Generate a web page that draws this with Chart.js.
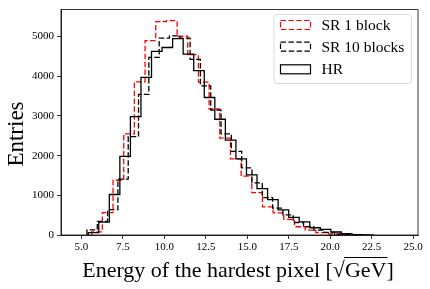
<!DOCTYPE html>
<html>
<head>
<meta charset="utf-8">
<script src="https://cdn.jsdelivr.net/npm/chart.js@4.4.0/dist/chart.umd.min.js"></script>
<style>
    html, body { margin: 0; padding: 0; background: #fff; }
    #wrap { width: 430px; height: 289px; }
</style>
</head>
<body>
<div id="wrap"><canvas id="grafico" width="430" height="289"></canvas></div>
<script>
//Contagens de cada histograma (um valor por bin)
const sr1Counts = [80, 565, 1380, 2550, 3858, 4900, 5375, 5400, 5008, 4545, 3850, 3175, 2440, 1920, 1483, 1067, 708, 558, 392, 208, 125, 58, 25, 5];
const sr10Counts = [130, 345, 640, 1410, 2480, 3545, 4475, 4960, 5017, 4960, 4425, 3760, 3145, 2550, 2107, 1690, 1315, 940, 675, 508, 315, 208, 125, 65, 25, 10];
const hrCounts = [60, 325, 1020, 1980, 2985, 3970, 4625, 4725, 4950, 4558, 4142, 3465, 2917, 2392, 1917, 1517, 1167, 892, 635, 442, 333, 183, 142, 75, 33, 8, 5];

//Inicio e largura dos bins
const sr1BinStart = 5.62, sr1BinWidth = 0.6434;
const sr10BinStart = 5.335, sr10BinWidth = 0.6217;
const hrBinStart = 5.41, hrBinWidth = 0.636;

const seriesLabels = ['SR 1 block', 'SR 10 blocks', 'HR'];
const xTicks = [5.0, 7.5, 10.0, 12.5, 15.0, 17.5, 20.0, 22.5, 25.0];
const yTicks = [0, 1000, 2000, 3000, 4000, 5000];
const xLimits = [3.77, 25.29];
const yLimits = [0, 5680];

const xTitle = 'Energy of the hardest pixel [';
const xTitleUnit = 'GeV';
const yTitle = 'Entries';

const serif = '"Liberation Serif", "Times New Roman", serif';

/**
 * Monta os pontos de um histograma em degraus (contorno, como histtype step)
 */
const StepPoints = (start, width, counts) => {
    var pts = [{ x: start, y: 0 }];
    for (var i = 0; i < counts.length; i++) {
        pts.push({ x: start + i * width, y: counts[i] });
    }
    pts.push({ x: start + counts.length * width, y: 0 });
    return pts;
}

const Serie = (label, pts, color, dash, order) => {
    return {
        label: label,
        data: pts,
        borderColor: color,
        borderWidth: 1.3,
        borderDash: dash,
        stepped: true,
        fill: false,
        pointRadius: 0,
        order: order
    };
}

const datasets = [
    Serie(seriesLabels[0], StepPoints(sr1BinStart, sr1BinWidth, sr1Counts), '#ff0000', [5.5, 2.4], 3),
    Serie(seriesLabels[1], StepPoints(sr10BinStart, sr10BinWidth, sr10Counts), '#000000', [5.5, 2.4], 2),
    Serie(seriesLabels[2], StepPoints(hrBinStart, hrBinWidth, hrCounts), '#000000', [], 1)
];

//Moldura, legenda e titulos dos eixos
const extras = {
    id: 'extras',
    afterDatasetsDraw: (chart) => {
        var ctx = chart.ctx;
        var a = chart.chartArea;
        ctx.save();
        ctx.strokeStyle = '#000';
        ctx.lineWidth = 0.8;
        ctx.setLineDash([]);
        ctx.strokeRect(a.left, a.top, a.right - a.left, a.bottom - a.top);

        // legenda
        var lx = 274, ly = 14.5, lw = 137.5, lh = 69;
        ctx.beginPath();
        ctx.roundRect(lx, ly, lw, lh, 3);
        ctx.fillStyle = 'rgba(255,255,255,0.8)';
        ctx.fill();
        ctx.strokeStyle = '#d0d0d0';
        ctx.lineWidth = 0.8;
        ctx.stroke();

        var rows = [25, 46.7, 69.3];
        ctx.font = '15.5px ' + serif;
        ctx.textBaseline = 'middle';
        ctx.textAlign = 'left';
        for (var i = 0; i < datasets.length; i++) {
            var ds = datasets[i];
            ctx.strokeStyle = ds.borderColor;
            ctx.lineWidth = 1.2;
            ctx.setLineDash(ds.borderDash);
            ctx.strokeRect(280.5, rows[i] - 4.5, 30, 9);
            ctx.setLineDash([]);
            ctx.fillStyle = '#000';
            ctx.fillText(ds.label, 321.5, rows[i] + 1);
        }

        // titulo do eixo x com raiz quadrada
        ctx.font = '22px ' + serif;
        ctx.textBaseline = 'alphabetic';
        var w1 = ctx.measureText(xTitle).width;
        var wr = ctx.measureText('\u221A').width;
        var wu = ctx.measureText(xTitleUnit).width;
        var wb = ctx.measureText(']').width;
        var total = w1 + wr + wu + wb;
        var x0 = 238 - total / 2;
        var base = 277;
        ctx.fillText(xTitle, x0, base);
        ctx.fillText('\u221A', x0 + w1, base);
        ctx.fillText(xTitleUnit, x0 + w1 + wr, base);
        ctx.fillText(']', x0 + w1 + wr + wu, base);
        ctx.beginPath();
        ctx.lineWidth = 1;
        ctx.moveTo(x0 + w1 + wr - 1, base - 19.5);
        ctx.lineTo(x0 + w1 + wr + wu + 1, base - 19.5);
        ctx.stroke();

        // titulo do eixo y
        ctx.font = '23px ' + serif;
        ctx.translate(23, 134);
        ctx.rotate(-Math.PI / 2);
        ctx.textAlign = 'center';
        ctx.fillText(yTitle, 0, 0);
        ctx.restore();
    }
};

const tickFont = { family: serif, size: 11 };

var chart = new Chart(document.getElementById('grafico'), {
    type: 'line',
    data: { datasets: datasets },
    options: {
        responsive: false,
        animation: false,
        devicePixelRatio: 1,
        layout: { padding: { top: 7, right: 12, bottom: 0, left: 0 } },
        plugins: { legend: { display: false }, tooltip: { enabled: false } },
        scales: {
            x: {
                type: 'linear',
                min: xLimits[0],
                max: xLimits[1],
                afterBuildTicks: (s) => { s.ticks = xTicks.map(v => ({ value: v })); },
                afterFit: (s) => { s.height = 54; },
                ticks: {
                    font: tickFont, color: '#000', padding: 2, maxRotation: 0, autoSkip: false,
                    callback: (v) => Number(v).toFixed(1)
                },
                grid: { drawOnChartArea: false, drawTicks: true, tickLength: 4, color: '#000', lineWidth: 0.8 },
                border: { display: true, color: '#000', width: 0.8 }
            },
            y: {
                min: yLimits[0],
                max: yLimits[1],
                afterBuildTicks: (s) => { s.ticks = yTicks.map(v => ({ value: v })); },
                afterFit: (s) => { s.width = 61; },
                ticks: {
                    font: tickFont, color: '#000', padding: 3, autoSkip: false,
                    callback: (v) => String(v)
                },
                grid: { drawOnChartArea: false, drawTicks: true, tickLength: 4, color: '#000', lineWidth: 0.8 },
                border: { display: true, color: '#000', width: 0.8 }
            }
        }
    },
    plugins: [extras]
});
</script>
</body>
</html>
